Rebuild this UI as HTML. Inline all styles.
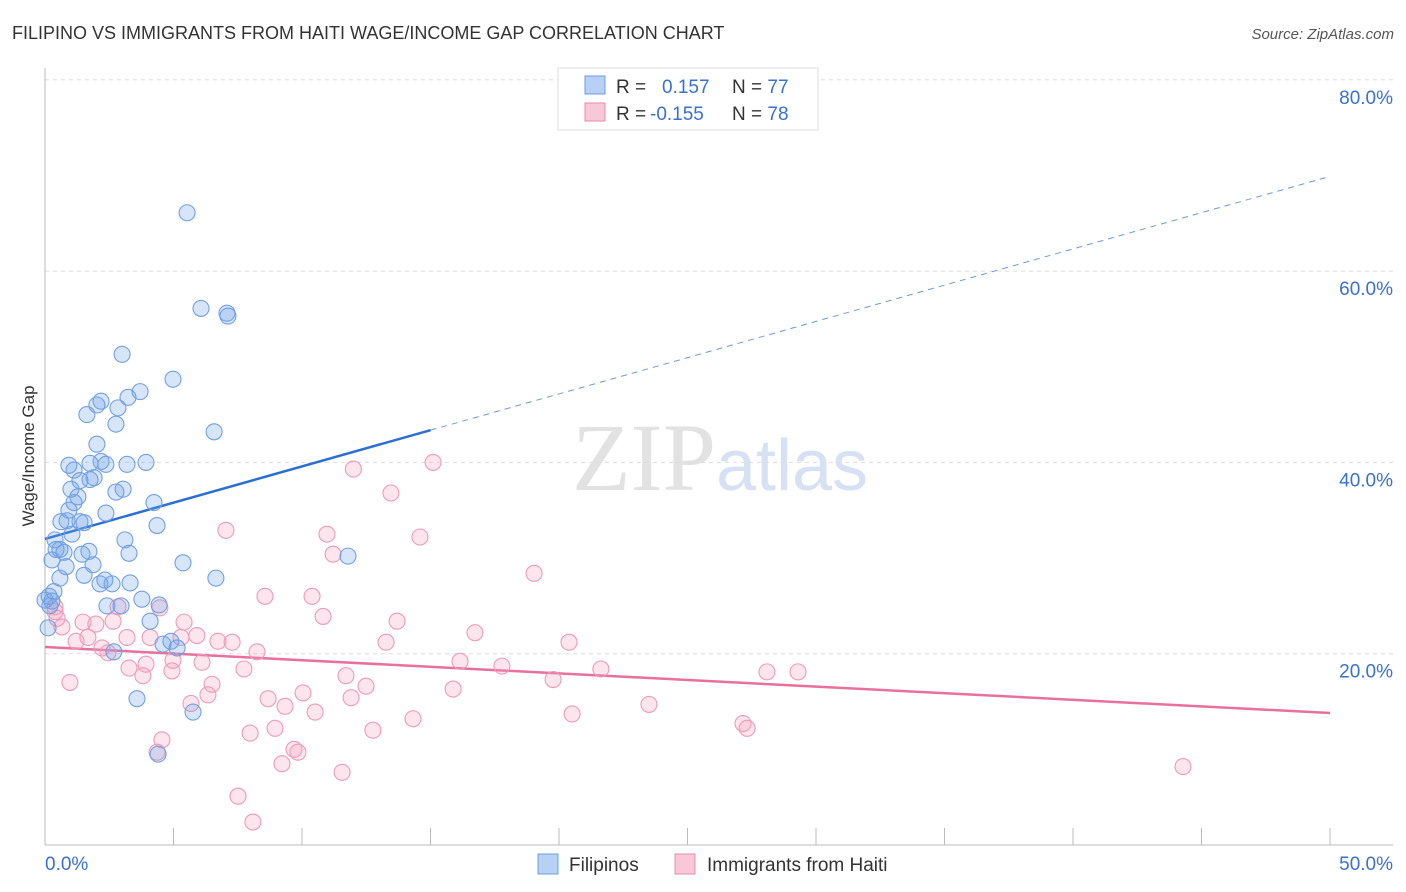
<!DOCTYPE html>
<html><head><meta charset="utf-8"><style>
body{margin:0;background:#fff;font-family:"Liberation Sans",sans-serif;}
svg{display:block}
</style></head><body>
<svg id="chart" width="1406" height="892" xmlns="http://www.w3.org/2000/svg" font-family="Liberation Sans, sans-serif">
<text x="12" y="39" font-size="18" fill="#333">FILIPINO VS IMMIGRANTS FROM HAITI WAGE/INCOME GAP CORRELATION CHART</text>
<text x="1394" y="39" font-size="15" fill="#555" font-style="italic" text-anchor="end">Source: ZipAtlas.com</text>
<text x="720" y="490" font-size="96" text-anchor="middle" fill="#e2e2e2" font-family="Liberation Serif, serif">ZIP<tspan fill="#d6e2f4" font-family="Liberation Sans, sans-serif" font-size="72">atlas</tspan></text>
<g id="grid"></g><g id="axes"></g><g id="trend"></g><g id="pts"></g>
<text transform="translate(34,456) rotate(-90)" font-size="17" fill="#333" text-anchor="middle">Wage/Income Gap</text>
<g>
<rect x="558" y="68" width="260" height="62" fill="#fff" stroke="#ddd"/>
<rect x="585" y="76" width="20" height="18" fill="#b8d0f4" stroke="#6a9be0"/>
<rect x="585" y="103" width="20" height="18" fill="#f8c8d8" stroke="#e88aab"/>
<text x="616" y="93" font-size="19" fill="#333">R = <tspan fill="#3a70d0" x="662">0.157</tspan><tspan fill="#333" x="732">N = </tspan><tspan fill="#3a70d0">77</tspan></text>
<text x="616" y="120" font-size="19" fill="#333">R = <tspan fill="#3a70d0" x="650">-0.155</tspan><tspan fill="#333" x="732">N = </tspan><tspan fill="#3a70d0">78</tspan></text>
</g>
<g>
<rect x="538" y="854" width="20" height="20" fill="#b8d0f4" stroke="#6a9be0"/>
<text x="569" y="871" font-size="19" fill="#333">Filipinos</text>
<rect x="675" y="854" width="20" height="20" fill="#f8c8d8" stroke="#e88aab"/>
<text x="707" y="871" font-size="19" fill="#333">Immigrants from Haiti</text>
</g>
</svg>
<script>
const blueX=[5.53,6.07,7.12,7.08,3.0,4.98,3.70,3.23,2.18,2.02,2.84,1.63,2.76,6.58,2.02,0.93,1.75,2.18,2.37,3.19,3.93,1.13,1.36,1.75,1.91,1.01,2.76,3.04,1.28,1.13,4.24,0.93,2.37,0.62,0.86,1.36,1.52,4.36,1.05,0.39,3.11,0.58,1.44,1.71,3.27,0.74,0.27,1.87,0.82,5.37,0.58,1.52,6.65,2.33,2.61,3.31,2.14,0.35,0.16,0.27,0.19,2.41,2.96,3.77,4.44,4.09,0.12,4.90,4.59,5.14,2.68,11.79,3.58,5.76,4.40,0.43,0.0];
const blueY=[66.1,56.1,55.3,55.6,51.3,48.7,47.4,46.8,46.4,46.0,45.7,45.0,44.0,43.2,41.9,39.7,39.9,40.1,39.8,39.8,40.0,39.2,38.1,38.2,38.4,37.2,36.9,37.2,36.4,35.8,35.8,35.0,34.7,33.8,33.9,33.8,33.7,33.4,32.5,31.9,31.9,30.9,30.4,30.7,30.5,30.6,29.8,29.3,29.1,29.5,27.9,28.2,27.9,27.7,27.3,27.4,27.3,26.5,26.0,25.5,25.0,25.0,25.0,25.7,25.1,23.4,22.7,21.3,21.0,20.6,20.2,30.2,15.3,13.9,9.5,30.9,25.6];
const pinkX=[15.1,12.0,13.46,14.59,7.04,10.97,11.21,19.03,8.56,10.39,10.82,13.7,16.73,20.39,13.27,4.47,5.41,0.39,0.47,0.66,1.48,1.98,2.65,2.84,3.19,4.09,5.91,6.73,7.28,5.29,1.67,1.21,2.22,2.45,3.93,4.98,3.27,3.81,4.94,6.11,7.74,8.25,11.71,12.49,16.15,17.78,19.77,21.63,28.09,29.3,0.97,6.5,6.34,5.68,8.68,9.34,10.04,10.51,11.91,15.88,14.32,20.51,23.5,27.16,27.32,8.95,7.98,12.76,4.55,4.36,9.69,9.84,9.22,11.56,44.28,7.51,8.09,0.39];
const pinkY=[40.0,39.3,36.8,32.2,32.9,32.5,30.4,28.4,26.0,26.0,23.9,23.4,22.2,21.2,21.2,24.8,23.3,24.9,23.7,22.8,23.3,23.1,23.4,24.9,21.7,21.7,21.9,21.3,21.2,21.7,21.7,21.3,20.6,20.1,18.9,19.3,18.5,17.7,18.2,19.1,18.4,20.2,17.7,16.6,19.2,18.7,17.3,18.4,18.1,18.1,17.0,16.8,15.7,14.8,15.3,14.5,15.9,13.9,15.4,16.3,13.2,13.7,14.7,12.7,12.2,12.2,11.7,12.0,11.0,9.7,10.0,9.7,8.5,7.6,8.2,5.1,2.4,24.4];
const yTicks=[20,40,60,80];
const yTickLabels=["20.0%","40.0%","60.0%","80.0%"];
const blueTrend=[32.0,69.9];
const blueTrendSolidEnd=15;
const pinkTrend=[20.7,13.8];

const NS="http://www.w3.org/2000/svg";
const sx=v=>45+v*25.7, sy=v=>845-v*9.565;
function mk(tag,attrs,parent){const e=document.createElementNS(NS,tag);for(const k in attrs)e.setAttribute(k,attrs[k]);document.getElementById(parent).appendChild(e);return e;}
yTicks.forEach((t,i)=>{
  const g=mk('line',{x1:45,x2:1393,y1:sy(t),y2:sy(t),stroke:'#ddd','stroke-dasharray':'4,4'},'grid');
  
  
  const l=mk('text',{x:1393,y:sy(t)+24,'font-size':19,fill:'#3a70d0','text-anchor':'end'},'grid');
  l.textContent=yTickLabels[i];
  
  
});
mk('line',{x1:45,x2:45,y1:68,y2:845,stroke:'#bbb'},'axes');
mk('line',{x1:45,x2:1393,y1:845,y2:845,stroke:'#bbb'},'axes');
for(let p=5;p<=50;p+=5){const t=mk('line',{x1:sx(p),x2:sx(p),y1:828,y2:845,stroke:'#bbb'},'axes');
  
  }
const x0=mk('text',{x:45,y:870,'font-size':19,fill:'#3a70d0'},'axes');x0.textContent='0.0%';


const x1=mk('text',{x:1393,y:870,'font-size':19,fill:'#3a70d0','text-anchor':'end'},'axes');x1.textContent='50.0%';


const bAt=x=>blueTrend[0]+(blueTrend[1]-blueTrend[0])*x/50;
const bs=mk('line',{x1:sx(0),y1:sy(bAt(0)),x2:sx(blueTrendSolidEnd),y2:sy(bAt(blueTrendSolidEnd)),stroke:'#2a6fd6','stroke-width':2.5},'trend');


const bd=mk('line',{x1:sx(blueTrendSolidEnd),y1:sy(bAt(blueTrendSolidEnd)),x2:sx(50),y2:sy(bAt(50)),stroke:'#6a9be0','stroke-width':1,'stroke-dasharray':'6,5'},'trend');


const pl=mk('line',{x1:sx(0),y1:sy(pinkTrend[0]),x2:sx(50),y2:sy(pinkTrend[1]),stroke:'#e8709a','stroke-width':2.5},'trend');


pinkX.forEach((x,i)=>{const c=mk('circle',{cx:sx(x),cy:sy(pinkY[i]),r:8,fill:'rgba(244,160,190,0.28)',stroke:'#ee9ab8','stroke-width':1.1},'pts');
  
  });
blueX.forEach((x,i)=>{const c=mk('circle',{cx:sx(x),cy:sy(blueY[i]),r:8,fill:'rgba(110,160,230,0.28)',stroke:'#72a0e2','stroke-width':1.1},'pts');
  
  });
</script>
</body></html>
